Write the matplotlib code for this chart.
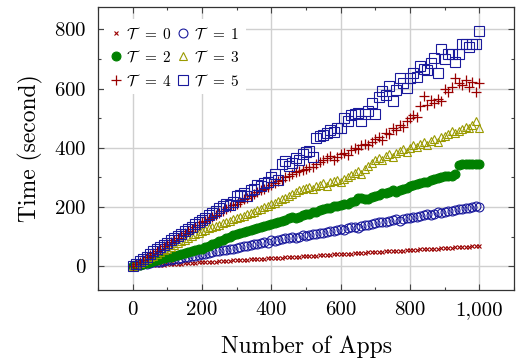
import numpy as np
import matplotlib
matplotlib.use("Agg")
import matplotlib.pyplot as plt
from matplotlib.ticker import MultipleLocator, FixedLocator, FixedFormatter

plt.rcParams['font.family'] = ['cmr10', 'DejaVu Serif']
plt.rcParams['mathtext.fontset'] = 'cm'
plt.rcParams['axes.formatter.use_mathtext'] = True

apps = list(range(0, 1001, 10))

t0 = [0, 1, 1, 2, 3, 4, 4, 5, 5, 6,
      7, 8, 8, 9, 9, 10, 11, 12, 12, 13,
      14, 14, 15, 16, 16, 17, 18, 18, 19, 20,
      20, 21, 22, 22, 23, 24, 24, 25, 26, 27,
      27, 28, 29, 29, 30, 31, 31, 32, 33, 34,
      34, 35, 35, 36, 37, 38, 38, 39, 40, 40,
      41, 42, 42, 43, 44, 44, 45, 46, 47, 47,
      48, 49, 49, 50, 51, 51, 52, 53, 53, 54,
      55, 56, 56, 57, 58, 58, 59, 60, 60, 61,
      62, 62, 63, 64, 64, 65, 66, 66, 67, 67,
      68]

t1 = [0, 3, 5, 7, 9, 11, 13, 14, 16, 18,
      20, 22, 24, 26, 27, 30, 32, 34, 36, 38,
      41, 43, 45, 47, 50, 52, 54, 56, 58, 60,
      62, 66, 70, 68, 72, 76, 74, 79, 82, 80,
      88, 86, 90, 92, 95, 94, 98, 96, 100, 104,
      102, 106, 110, 108, 112, 114, 116, 118, 120, 122,
      126, 124, 128, 132, 134, 130, 136, 138, 140, 144,
      146, 148, 150, 150, 152, 155, 158, 154, 160, 162,
      164, 166, 165, 170, 172, 176, 174, 178, 182, 180,
      184, 188, 186, 190, 194, 192, 196, 198, 200, 202,
      200]

t2 = [0, 3, 6, 9, 12, 15, 18, 21, 24, 27,
      30, 33, 36, 39, 42, 45, 48, 51, 54, 57,
      60, 64, 69, 74, 79, 84, 89, 94, 99, 104,
      108, 112, 115, 118, 122, 125, 128, 131, 135, 138,
      142, 145, 149, 152, 156, 162, 166, 164, 168, 172,
      175, 178, 182, 185, 190, 193, 196, 198, 202, 205,
      208, 212, 210, 216, 222, 230, 232, 228, 226, 234,
      238, 242, 246, 248, 252, 256, 250, 258, 262, 266,
      270, 275, 278, 280, 284, 286, 290, 294, 298, 302,
      304, 306, 305, 310, 342, 344, 345, 346, 344, 346,
      345]

t3 = [0, 6, 12, 18, 24, 30, 36, 42, 48, 54,
      60, 66, 72, 78, 84, 90, 96, 102, 108, 114,
      120, 124, 128, 132, 136, 140, 146, 150, 154, 158,
      162, 166, 170, 175, 180, 184, 190, 195, 200, 205,
      210, 214, 220, 226, 232, 238, 244, 250, 256, 260,
      264, 268, 262, 272, 276, 280, 270, 284, 288, 292,
      286, 296, 300, 308, 316, 322, 312, 330, 340, 350,
      360, 366, 358, 372, 378, 370, 384, 390, 396, 386,
      400, 408, 404, 412, 418, 410, 424, 430, 420, 436,
      440, 446, 456, 450, 458, 462, 470, 466, 476, 490,
      468]

t4 = [0, 8, 15, 22, 30, 38, 45, 52, 60, 68,
      75, 82, 90, 97, 104, 112, 118, 126, 134, 140,
      148, 154, 160, 168, 174, 180, 188, 194, 200, 206,
      212, 218, 226, 232, 238, 244, 250, 256, 262, 268,
      274, 282, 288, 290, 300, 306, 312, 318, 322, 326,
      330, 336, 334, 344, 352, 358, 366, 372, 360, 370,
      378, 384, 376, 392, 400, 396, 410, 414, 408, 420,
      430, 436, 428, 450, 446, 468, 460, 478, 472, 490,
      500, 512, 505, 540, 576, 546, 560, 552, 566, 558,
      600, 590, 604, 636, 620, 612, 628, 606, 622, 588,
      620]

t5 = [0, 9, 17, 25, 33, 41, 50, 58, 65, 72,
      80, 88, 96, 103, 110, 118, 126, 134, 142, 150,
      156, 164, 172, 180, 188, 196, 204, 212, 206, 218,
      236, 242, 248, 238, 256, 262, 276, 270, 280, 286,
      300, 312, 290, 345, 356, 340, 350, 365, 358, 380,
      385, 390, 370, 434, 440, 445, 450, 460, 455, 468,
      468, 502, 490, 510, 515, 519, 491, 515, 525, 553,
      515, 570, 593, 580, 610, 559, 596, 637, 620, 603,
      637, 654, 640, 678, 667, 662, 685, 702, 654, 735,
      700, 718, 718, 689, 718, 752, 752, 740, 749, 749,
      793]

labels = [r'$\mathcal{T}\;\;=\;0$', r'$\mathcal{T}\;\;=\;1$',
          r'$\mathcal{T}\;\;=\;2$', r'$\mathcal{T}\;\;=\;3$',
          r'$\mathcal{T}\;\;=\;4$', r'$\mathcal{T}\;\;=\;5$']
xticks = [0, 200, 400, 600, 800, 1000]
xticklabels = ['0', '200', '400', '600', '800', '1,000']
yticks = [0, 200, 400, 600, 800]

red = '#9a0000'
blue = '#1a1a9c'
green = '#008000'
olive = '#9a9a00'

fig = plt.figure(figsize=(5.24, 3.58), dpi=100)
ax = fig.add_axes([0.187, 0.19, 0.794, 0.79])

series = [t0, t1, t2, t3, t4, t5]
styles = [
    dict(marker='x', ms=3.4, mec=red, mfc='none', mew=0.8),
    dict(marker='o', ms=6.4, mec=blue, mfc='none', mew=0.8),
    dict(marker='o', ms=6.4, mec=green, mfc=green, mew=0.8),
    dict(marker='^', ms=6.0, mec=olive, mfc='none', mew=0.8),
    dict(marker='+', ms=6.5, mec=red, mfc='none', mew=0.9),
    dict(marker='s', ms=6.8, mec=blue, mfc='none', mew=0.8),
]
handles = []
for s, st, lab in zip(series, styles, labels):
    h, = ax.plot(apps, s, linestyle='none', label=lab, **st)
    handles.append(h)

ax.set_xlim(-100, 1100)
ax.set_ylim(-80, 875)
ax.xaxis.set_major_locator(FixedLocator(xticks))
ax.xaxis.set_major_formatter(FixedFormatter(xticklabels))
ax.xaxis.set_minor_locator(MultipleLocator(100))
ax.yaxis.set_major_locator(FixedLocator(yticks))
ax.yaxis.set_minor_locator(MultipleLocator(100))
ax.grid(True, which='major', color='#d0d0d0', linewidth=1.0)
ax.set_axisbelow(True)
ax.tick_params(which='both', direction='in', top=True, right=True,
               color='#444444', labelsize=15, pad=8)
ax.tick_params(which='major', length=4.5, width=0.8)
ax.tick_params(which='minor', length=2.5, width=0.8)
for sp in ax.spines.values():
    sp.set_linewidth(0.9)
    sp.set_color('#333333')

ax.set_xlabel('Number of Apps', fontsize=17, labelpad=12)
ax.set_ylabel('Time (second)', fontsize=17, labelpad=8)

# row-major legend order for 2 columns
order = [0, 2, 4, 1, 3, 5]
leg = ax.legend(handles=[handles[i] for i in order], loc='upper left', ncol=2,
                fontsize=11, frameon=True, fancybox=False, framealpha=1,
                edgecolor='none', facecolor='white', handlelength=0.8,
                handletextpad=0.3, columnspacing=0.3, labelspacing=0.5,
                borderpad=0.4, bbox_to_anchor=(-0.005, 0.985))

fig.savefig('out.png', dpi=100)
